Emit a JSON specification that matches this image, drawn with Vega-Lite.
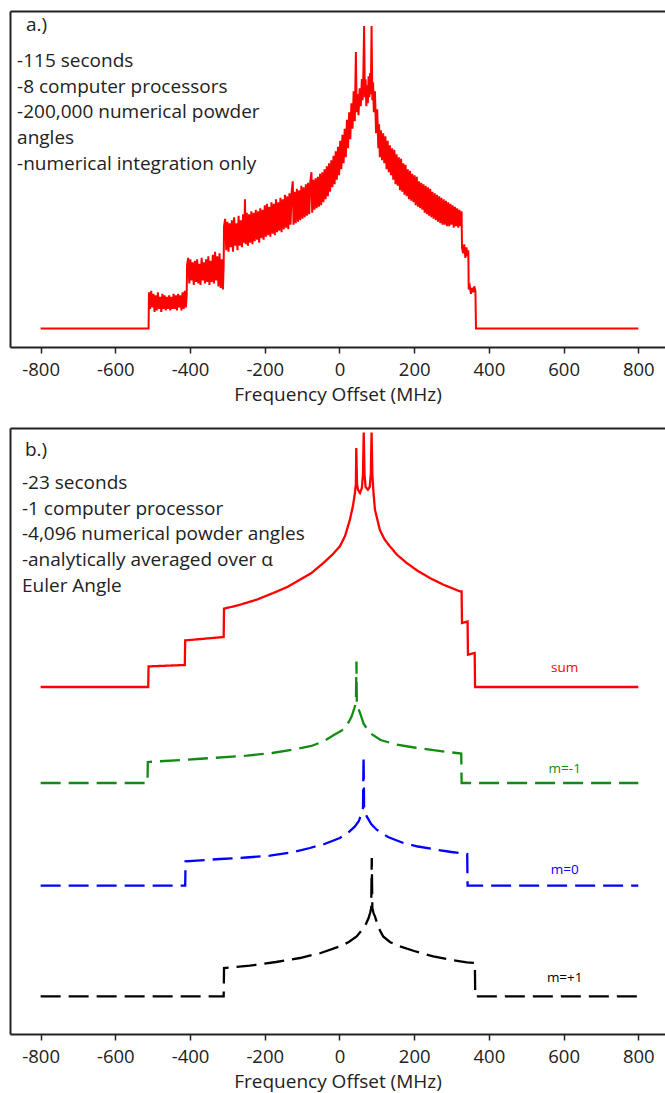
{
  "$schema": "https://vega.github.io/schema/vega-lite/v6.json",
  "padding": {"left": 10, "top": 11, "right": 0, "bottom": 1},
  "spacing": 22,
  "config": {
    "font": "Open Sans",
    "view": {"stroke": null},
    "axis": {"grid": false, "domainColor": "#222", "domainWidth": 2, "tickColor": "#222", "tickWidth": 1.5, "tickSize": 6, "labelFont": "Open Sans", "labelFontSize": 18.5, "labelColor": "#222", "labelPadding": 7, "titleFont": "Open Sans", "titleFontSize": 19, "titleFontWeight": "normal", "titleColor": "#222", "titlePadding": 7}
  },
  "vconcat": [
    {
      "width": 655,
      "height": 336,
      "layer": [
        {
          "data": {"values": [
            {"f":-800,"i":0},{"f":-511,"i":0},{"f":-510,"i":0.12},{"f":-507,"i":0.065},{"f":-504,"i":0.125},{"f":-501,"i":0.07},{"f":-498,"i":0.115},{"f":-495,"i":0.055},{"f":-492,"i":0.11},{"f":-489,"i":0.06},{"f":-486,"i":0.12},{"f":-483,"i":0.065},{"f":-480,"i":0.105},{"f":-477,"i":0.055},{"f":-474,"i":0.115},{"f":-471,"i":0.065},{"f":-468,"i":0.11},{"f":-465,"i":0.06},{"f":-462,"i":0.105},{"f":-459,"i":0.065},{"f":-456,"i":0.11},{"f":-453,"i":0.06},{"f":-450,"i":0.105},{"f":-447,"i":0.065},{"f":-444,"i":0.115},{"f":-441,"i":0.065},{"f":-438,"i":0.11},{"f":-435,"i":0.06},{"f":-432,"i":0.115},{"f":-429,"i":0.07},{"f":-426,"i":0.11},{"f":-423,"i":0.06},{"f":-420,"i":0.12},{"f":-417,"i":0.065},{"f":-414,"i":0.125},{"f":-411,"i":0.07},{"f":-409,"i":0.11},
            {"f":-408,"i":0.21},{"f":-405,"i":0.235},{"f":-402,"i":0.15},{"f":-399,"i":0.23},{"f":-396,"i":0.16},{"f":-393,"i":0.22},{"f":-390,"i":0.145},{"f":-387,"i":0.225},{"f":-384,"i":0.155},{"f":-381,"i":0.23},{"f":-378,"i":0.15},{"f":-375,"i":0.215},{"f":-372,"i":0.145},{"f":-369,"i":0.235},{"f":-366,"i":0.16},{"f":-363,"i":0.22},{"f":-360,"i":0.15},{"f":-357,"i":0.23},{"f":-354,"i":0.155},{"f":-351,"i":0.24},{"f":-348,"i":0.145},{"f":-345,"i":0.225},{"f":-342,"i":0.155},{"f":-339,"i":0.245},{"f":-336,"i":0.15},{"f":-333,"i":0.255},{"f":-330,"i":0.16},{"f":-327,"i":0.24},{"f":-324,"i":0.14},{"f":-321,"i":0.25},{"f":-318,"i":0.135},{"f":-315,"i":0.23},{"f":-312,"i":0.13},{"f":-310,"i":0.21},
            {"f":-309,"i":0.34},{"f":-306,"i":0.365},{"f":-303,"i":0.26},{"f":-300,"i":0.355},{"f":-297,"i":0.255},{"f":-294,"i":0.35},{"f":-291,"i":0.27},{"f":-288,"i":0.36},{"f":-285,"i":0.255},{"f":-282,"i":0.37},{"f":-279,"i":0.275},{"f":-276,"i":0.35},{"f":-273,"i":0.26},{"f":-270,"i":0.375},{"f":-267,"i":0.275},{"f":-264,"i":0.36},{"f":-261,"i":0.27},{"f":-258,"i":0.38},{"f":-255,"i":0.285},{"f":-253,"i":0.43},{"f":-251,"i":0.28},{"f":-248,"i":0.385},{"f":-245,"i":0.275},{"f":-242,"i":0.38},{"f":-239,"i":0.285},{"f":-236,"i":0.39},{"f":-233,"i":0.28},{"f":-230,"i":0.385},{"f":-227,"i":0.29},{"f":-224,"i":0.395},{"f":-221,"i":0.295},{"f":-218,"i":0.39},{"f":-215,"i":0.285},{"f":-212,"i":0.4},{"f":-209,"i":0.3},{"f":-206,"i":0.395},{"f":-203,"i":0.295},{"f":-200,"i":0.41},{"f":-197,"i":0.305},{"f":-194,"i":0.415},{"f":-191,"i":0.31},{"f":-188,"i":0.405},{"f":-185,"i":0.305},{"f":-182,"i":0.42},{"f":-179,"i":0.315},{"f":-176,"i":0.415},{"f":-173,"i":0.31},{"f":-170,"i":0.43},{"f":-167,"i":0.32},{"f":-164,"i":0.42},{"f":-161,"i":0.325},{"f":-158,"i":0.435},{"f":-155,"i":0.32},{"f":-152,"i":0.43},{"f":-149,"i":0.33},{"f":-146,"i":0.445},{"f":-143,"i":0.335},{"f":-140,"i":0.44},{"f":-137,"i":0.33},{"f":-134,"i":0.45},{"f":-131,"i":0.345},{"f":-128,"i":0.455},{"f":-125,"i":0.49},{"f":-123,"i":0.345},{"f":-120,"i":0.455},{"f":-117,"i":0.35},{"f":-114,"i":0.465},{"f":-111,"i":0.355},{"f":-108,"i":0.46},{"f":-105,"i":0.36},{"f":-102,"i":0.475},{"f":-99,"i":0.365},{"f":-96,"i":0.47},{"f":-93,"i":0.37},{"f":-90,"i":0.48},{"f":-87,"i":0.375},{"f":-84,"i":0.485},{"f":-81,"i":0.38},{"f":-78,"i":0.49},{"f":-75,"i":0.52},{"f":-73,"i":0.385},{"f":-70,"i":0.495},{"f":-67,"i":0.395},{"f":-64,"i":0.5},{"f":-61,"i":0.4},{"f":-58,"i":0.505},{"f":-55,"i":0.405},{"f":-52,"i":0.515},{"f":-49,"i":0.41},{"f":-46,"i":0.52},{"f":-43,"i":0.42},{"f":-40,"i":0.53},{"f":-37,"i":0.43},{"f":-34,"i":0.54},{"f":-31,"i":0.44},{"f":-28,"i":0.55},{"f":-25,"i":0.455},{"f":-22,"i":0.56},{"f":-19,"i":0.47},{"f":-16,"i":0.575},{"f":-13,"i":0.48},{"f":-10,"i":0.59},{"f":-7,"i":0.495},{"f":-4,"i":0.605},{"f":-1,"i":0.51},{"f":2,"i":0.625},{"f":5,"i":0.53},{"f":8,"i":0.645},{"f":11,"i":0.55},{"f":14,"i":0.665},{"f":17,"i":0.57},{"f":20,"i":0.695},{"f":23,"i":0.6},{"f":26,"i":0.72},{"f":29,"i":0.63},{"f":32,"i":0.75},{"f":35,"i":0.665},{"f":38,"i":0.79},{"f":41,"i":0.69},{"f":44,"i":0.92},{"f":46,"i":0.72},{"f":48,"i":0.78},{"f":51,"i":0.71},{"f":54,"i":0.8},{"f":57,"i":0.74},{"f":60,"i":0.83},{"f":62,"i":0.76},{"f":64,"i":0.85},{"f":66,"i":1.007},{"f":68,"i":0.77},{"f":70,"i":0.83},{"f":72,"i":0.74},{"f":74,"i":0.81},{"f":76,"i":0.75},{"f":78,"i":0.84},{"f":80,"i":0.77},{"f":82,"i":0.85},{"f":84,"i":0.78},{"f":86,"i":1.007},{"f":88,"i":0.76},{"f":90,"i":0.82},{"f":92,"i":0.72},{"f":95,"i":0.79},{"f":98,"i":0.65},{"f":101,"i":0.73},{"f":104,"i":0.6},{"f":106,"i":0.68},{"f":108,"i":0.57},{"f":111,"i":0.66},{"f":114,"i":0.56},{"f":117,"i":0.65},{"f":120,"i":0.55},{"f":123,"i":0.64},{"f":126,"i":0.53},{"f":129,"i":0.625},{"f":132,"i":0.52},{"f":135,"i":0.61},{"f":138,"i":0.51},{"f":141,"i":0.6},{"f":144,"i":0.495},{"f":147,"i":0.595},{"f":150,"i":0.48},{"f":153,"i":0.58},{"f":156,"i":0.475},{"f":159,"i":0.57},{"f":162,"i":0.46},{"f":165,"i":0.565},{"f":168,"i":0.455},{"f":171,"i":0.55},{"f":174,"i":0.445},{"f":177,"i":0.545},{"f":180,"i":0.44},{"f":183,"i":0.53},{"f":186,"i":0.43},{"f":189,"i":0.525},{"f":192,"i":0.425},{"f":195,"i":0.515},{"f":198,"i":0.42},{"f":201,"i":0.51},{"f":204,"i":0.41},{"f":207,"i":0.505},{"f":210,"i":0.405},{"f":213,"i":0.49},{"f":216,"i":0.4},{"f":219,"i":0.485},{"f":222,"i":0.395},{"f":225,"i":0.48},{"f":228,"i":0.385},{"f":231,"i":0.475},{"f":234,"i":0.38},{"f":237,"i":0.47},{"f":240,"i":0.375},{"f":243,"i":0.465},{"f":246,"i":0.37},{"f":249,"i":0.455},{"f":252,"i":0.365},{"f":255,"i":0.45},{"f":258,"i":0.36},{"f":261,"i":0.445},{"f":264,"i":0.355},{"f":267,"i":0.44},{"f":270,"i":0.35},{"f":273,"i":0.435},{"f":276,"i":0.345},{"f":279,"i":0.43},{"f":282,"i":0.345},{"f":285,"i":0.425},{"f":288,"i":0.34},{"f":291,"i":0.42},{"f":294,"i":0.34},{"f":297,"i":0.415},{"f":300,"i":0.345},{"f":303,"i":0.41},{"f":306,"i":0.335},{"f":309,"i":0.405},{"f":312,"i":0.34},{"f":315,"i":0.4},{"f":318,"i":0.335},{"f":321,"i":0.395},{"f":324,"i":0.34},{"f":327,"i":0.39},
            {"f":328,"i":0.27},{"f":331,"i":0.25},{"f":334,"i":0.28},{"f":337,"i":0.235},{"f":340,"i":0.27},{"f":343,"i":0.24},{"f":345,"i":0.26},{"f":346,"i":0.13},{"f":349,"i":0.14},{"f":352,"i":0.115},{"f":355,"i":0.135},{"f":358,"i":0.12},{"f":361,"i":0.14},{"f":364,"i":0.125},{"f":365.5,"i":0},{"f":800,"i":0}
          ]},
          "mark": {"type": "line", "color": "#ff0000", "strokeWidth": 2, "strokeJoin": "miter"},
          "encoding": {
            "x": {"field": "f", "type": "quantitative", "sort": null, "scale": {"domain": [-882, 871.5], "nice": false, "zero": false},
                  "axis": {"values": [-800, -600, -400, -200, 0, 200, 400, 600, 800], "title": "Frequency Offset (MHz)", "labelExpr": "datum.value < 0 ? '-' + abs(datum.value) : '' + datum.value"}},
            "y": {"field": "i", "type": "quantitative", "scale": {"domain": [-0.062, 1.057], "nice": false, "zero": false},
                  "axis": {"labels": false, "ticks": false, "title": null}}
          }
        },
        {
          "data": {"values": [
            {"t": "a.)", "f": -839, "v": 0.992},
            {"t": "-115 seconds", "f": -863, "v": 0.871},
            {"t": "-8 computer processors", "f": -863, "v": 0.785},
            {"t": "-200,000 numerical powder", "f": -863, "v": 0.70},
            {"t": "angles", "f": -863, "v": 0.614},
            {"t": "-numerical integration only", "f": -863, "v": 0.528}
          ]},
          "mark": {"type": "text", "align": "left", "baseline": "alphabetic", "fontSize": 19, "color": "#222"},
          "encoding": {
            "x": {"field": "f", "type": "quantitative", "scale": {"domain": [-882, 871.5], "nice": false, "zero": false},
                  "axis": {"orient": "top", "labels": false, "ticks": false, "title": null}},
            "y": {"field": "v", "type": "quantitative", "scale": {"domain": [-0.062, 1.057], "nice": false, "zero": false}, "axis": null},
            "text": {"field": "t"}
          }
        }
      ],
      "resolve": {"scale": {"x": "independent", "y": "independent"}, "axis": {"x": "independent", "y": "independent"}}
    },
    {
      "width": 655,
      "height": 606,
      "layer": [
        {
          "data": {"values": [
            {"s":"sum","f":-800,"v":3.47},{"s":"sum","f":-512,"v":3.47},{"s":"sum","f":-511,"v":3.676},{"s":"sum","f":-414,"v":3.69},{"s":"sum","f":-413,"v":3.936},{"s":"sum","f":-310,"v":3.97},{"s":"sum","f":-309,"v":4.253},{"s":"sum","f":-266,"v":4.293},{"s":"sum","f":-220,"v":4.345},{"s":"sum","f":-177,"v":4.41},{"s":"sum","f":-140,"v":4.47},{"s":"sum","f":-106,"v":4.543},{"s":"sum","f":-75,"v":4.61},{"s":"sum","f":-43,"v":4.71},{"s":"sum","f":-20,"v":4.79},{"s":"sum","f":1,"v":4.876},{"s":"sum","f":15,"v":4.98},{"s":"sum","f":28,"v":5.143},{"s":"sum","f":36,"v":5.28},{"s":"sum","f":41.5,"v":5.41},{"s":"sum","f":44,"v":5.5},{"s":"sum","f":45,"v":5.86},{"s":"sum","f":47,"v":5.5},{"s":"sum","f":50,"v":5.44},{"s":"sum","f":55,"v":5.41},{"s":"sum","f":60,"v":5.46},{"s":"sum","f":63,"v":5.6},{"s":"sum","f":65,"v":6.016},{"s":"sum","f":67,"v":5.6},{"s":"sum","f":70,"v":5.47},{"s":"sum","f":76,"v":5.443},{"s":"sum","f":81,"v":5.47},{"s":"sum","f":84,"v":5.6},{"s":"sum","f":86,"v":6.016},{"s":"sum","f":88,"v":5.6},{"s":"sum","f":90.5,"v":5.443},{"s":"sum","f":95,"v":5.243},{"s":"sum","f":108,"v":5.043},{"s":"sum","f":120,"v":4.95},{"s":"sum","f":135,"v":4.876},{"s":"sum","f":155,"v":4.79},{"s":"sum","f":180,"v":4.71},{"s":"sum","f":210,"v":4.63},{"s":"sum","f":242,"v":4.56},{"s":"sum","f":280,"v":4.49},{"s":"sum","f":323,"v":4.426},{"s":"sum","f":327,"v":4.426},{"s":"sum","f":328,"v":4.11},{"s":"sum","f":343,"v":4.126},{"s":"sum","f":344,"v":3.793},{"s":"sum","f":362,"v":3.81},{"s":"sum","f":363,"v":3.47},{"s":"sum","f":800,"v":3.47},
            {"s":"m=-1","f":-800,"v":2.51},{"s":"m=-1","f":-514,"v":2.51},{"s":"m=-1","f":-513,"v":2.72},{"s":"m=-1","f":-382,"v":2.75},{"s":"m=-1","f":-248,"v":2.783},{"s":"m=-1","f":-180,"v":2.81},{"s":"m=-1","f":-115,"v":2.85},{"s":"m=-1","f":-75,"v":2.88},{"s":"m=-1","f":-43,"v":2.926},{"s":"m=-1","f":-15,"v":2.99},{"s":"m=-1","f":10,"v":3.043},{"s":"m=-1","f":25,"v":3.12},{"s":"m=-1","f":32.7,"v":3.176},{"s":"m=-1","f":40,"v":3.26},{"s":"m=-1","f":44,"v":3.31},{"s":"m=-1","f":45.5,"v":3.726},{"s":"m=-1","f":46.5,"v":3.31},{"s":"m=-1","f":50,"v":3.26},{"s":"m=-1","f":55,"v":3.21},{"s":"m=-1","f":65,"v":3.1},{"s":"m=-1","f":81.6,"v":3.01},{"s":"m=-1","f":110,"v":2.94},{"s":"m=-1","f":153,"v":2.893},{"s":"m=-1","f":200,"v":2.865},{"s":"m=-1","f":242,"v":2.843},{"s":"m=-1","f":290,"v":2.82},{"s":"m=-1","f":326,"v":2.805},{"s":"m=-1","f":327,"v":2.51},{"s":"m=-1","f":800,"v":2.51},
            {"s":"m=0","f":-800,"v":1.483},{"s":"m=0","f":-413,"v":1.483},{"s":"m=0","f":-412,"v":1.726},{"s":"m=0","f":-320,"v":1.75},{"s":"m=0","f":-250,"v":1.765},{"s":"m=0","f":-186,"v":1.783},{"s":"m=0","f":-130,"v":1.815},{"s":"m=0","f":-79,"v":1.86},{"s":"m=0","f":-40,"v":1.9},{"s":"m=0","f":1,"v":1.96},{"s":"m=0","f":25,"v":2.02},{"s":"m=0","f":41.5,"v":2.076},{"s":"m=0","f":52,"v":2.13},{"s":"m=0","f":59,"v":2.21},{"s":"m=0","f":63,"v":2.26},{"s":"m=0","f":64.5,"v":2.776},{"s":"m=0","f":66,"v":2.26},{"s":"m=0","f":69,"v":2.21},{"s":"m=0","f":73,"v":2.176},{"s":"m=0","f":85,"v":2.1},{"s":"m=0","f":99.6,"v":2.043},{"s":"m=0","f":130,"v":1.97},{"s":"m=0","f":171,"v":1.91},{"s":"m=0","f":210,"v":1.875},{"s":"m=0","f":260,"v":1.843},{"s":"m=0","f":300,"v":1.82},{"s":"m=0","f":342,"v":1.8},{"s":"m=0","f":343,"v":1.483},{"s":"m=0","f":800,"v":1.483},
            {"s":"m=+1","f":-800,"v":0.376},{"s":"m=+1","f":-310,"v":0.376},{"s":"m=+1","f":-309,"v":0.66},{"s":"m=+1","f":-240,"v":0.683},{"s":"m=+1","f":-170,"v":0.72},{"s":"m=+1","f":-106,"v":0.76},{"s":"m=+1","f":-50,"v":0.81},{"s":"m=+1","f":1,"v":0.876},{"s":"m=+1","f":25,"v":0.92},{"s":"m=+1","f":46,"v":0.976},{"s":"m=+1","f":60,"v":1.04},{"s":"m=+1","f":68,"v":1.076},{"s":"m=+1","f":78,"v":1.16},{"s":"m=+1","f":82,"v":1.21},{"s":"m=+1","f":85,"v":1.26},{"s":"m=+1","f":86.5,"v":1.76},{"s":"m=+1","f":88,"v":1.26},{"s":"m=+1","f":91,"v":1.21},{"s":"m=+1","f":95,"v":1.176},{"s":"m=+1","f":105,"v":1.06},{"s":"m=+1","f":117,"v":0.976},{"s":"m=+1","f":135,"v":0.92},{"s":"m=+1","f":162,"v":0.876},{"s":"m=+1","f":200,"v":0.83},{"s":"m=+1","f":251,"v":0.776},{"s":"m=+1","f":300,"v":0.74},{"s":"m=+1","f":340.6,"v":0.716},{"s":"m=+1","f":362.5,"v":0.71},{"s":"m=+1","f":363.5,"v":0.376},{"s":"m=+1","f":800,"v":0.376}
          ]},
          "mark": {"type": "line", "strokeWidth": 2.3, "strokeJoin": "miter"},
          "encoding": {
            "x": {"field": "f", "type": "quantitative", "sort": null, "scale": {"domain": [-882, 871.5], "nice": false, "zero": false},
                  "axis": {"values": [-800, -600, -400, -200, 0, 200, 400, 600, 800], "title": "Frequency Offset (MHz)", "labelExpr": "datum.value < 0 ? '-' + abs(datum.value) : '' + datum.value"}},
            "y": {"field": "v", "type": "quantitative", "scale": {"domain": [0, 6.06], "nice": false, "zero": false},
                  "axis": {"labels": false, "ticks": false, "title": null}},
            "color": {"field": "s", "type": "nominal", "scale": {"domain": ["sum", "m=-1", "m=0", "m=+1"], "range": ["#ff0000", "#138a13", "#0000ff", "#000000"]}, "legend": null},
            "strokeDash": {"field": "s", "type": "nominal", "scale": {"domain": ["sum", "m=-1", "m=0", "m=+1"], "range": [[1, 0], [20, 8], [20, 8], [20, 8]]}, "legend": null}
          }
        },
        {
          "data": {"values": [
            {"s": "sum", "f": 603, "v": 3.66},
            {"s": "m=-1", "f": 603, "v": 2.653},
            {"s": "m=0", "f": 603, "v": 1.643},
            {"s": "m=+1", "f": 603, "v": 0.556}
          ]},
          "mark": {"type": "text", "align": "center", "baseline": "middle", "fontSize": 13.5},
          "encoding": {
            "x": {"field": "f", "type": "quantitative", "scale": {"domain": [-882, 871.5], "nice": false, "zero": false}, "axis": null},
            "y": {"field": "v", "type": "quantitative", "scale": {"domain": [0, 6.06], "nice": false, "zero": false}, "axis": null},
            "text": {"field": "s"},
            "color": {"field": "s", "type": "nominal", "scale": {"domain": ["sum", "m=-1", "m=0", "m=+1"], "range": ["#ff0000", "#138a13", "#0000ff", "#000000"]}, "legend": null}
          }
        },
        {
          "data": {"values": [
            {"t": "b.)", "f": -842, "v": 5.776},
            {"t": "-23 seconds", "f": -850, "v": 5.45},
            {"t": "-1 computer processor", "f": -850, "v": 5.193},
            {"t": "-4,096 numerical powder angles", "f": -850, "v": 4.936},
            {"t": "-analytically averaged over α", "f": -850, "v": 4.679},
            {"t": "Euler Angle", "f": -850, "v": 4.422}
          ]},
          "mark": {"type": "text", "align": "left", "baseline": "alphabetic", "fontSize": 19, "color": "#222"},
          "encoding": {
            "x": {"field": "f", "type": "quantitative", "scale": {"domain": [-882, 871.5], "nice": false, "zero": false},
                  "axis": {"orient": "top", "labels": false, "ticks": false, "title": null}},
            "y": {"field": "v", "type": "quantitative", "scale": {"domain": [0, 6.06], "nice": false, "zero": false}, "axis": null},
            "text": {"field": "t"}
          }
        }
      ],
      "resolve": {"scale": {"x": "independent", "y": "independent"}, "axis": {"x": "independent", "y": "independent"}}
    }
  ]
}
